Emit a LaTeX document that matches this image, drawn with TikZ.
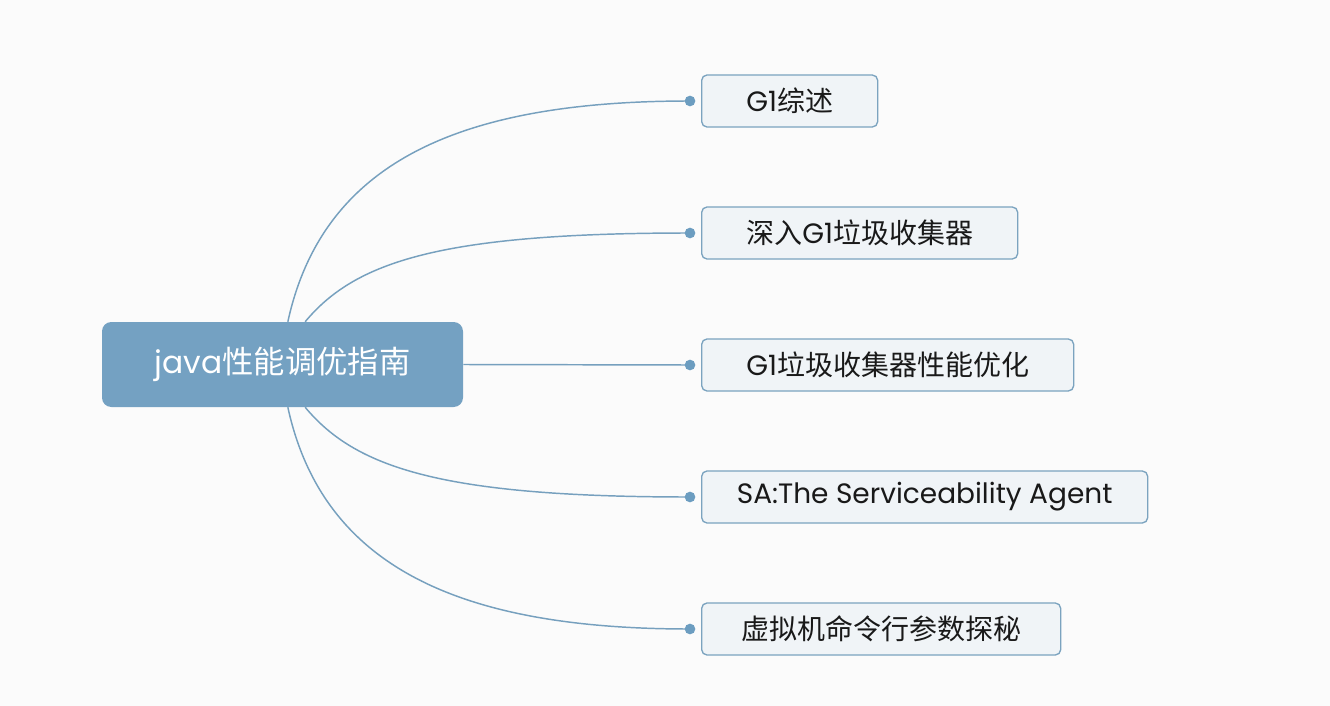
\documentclass[tikz,border=0pt]{standalone}
\usepackage{fontspec}
\setmainfont{Poppins}
\newfontfamily\cjk{Noto Sans CJK SC}
\definecolor{pagebg}{HTML}{FBFBFB}
\definecolor{mapline}{HTML}{76A0BE}
\definecolor{knobfill}{HTML}{6C9DC0}
\definecolor{rootfill}{HTML}{74A1C2}
\definecolor{topicfill}{HTML}{F0F4F7}
\definecolor{topicedge}{HTML}{7BA3BF}
\begin{document}
\begin{tikzpicture}[x=0.75pt,y=-0.75pt,
  root/.style={fill=rootfill, rounded corners=7pt, minimum width=270.75pt,
    minimum height=63.75pt, text=white, font=\fontsize{23.5}{23.5}\selectfont},
  topic/.style={draw=topicedge, fill=topicfill, rounded corners=4pt,
    line width=1pt, minimum height=39pt, anchor=west, text=black!90,
    font=\fontsize{21}{21}\selectfont},
  branch/.style={draw=mapline, line width=1.1pt},
  knob/.style={circle, fill=knobfill, inner sep=0pt, minimum size=8pt}]
  \fill[pagebg] (0,0) rectangle (1330,706);
  \useasboundingbox (0,0) rectangle (1330,706);
  % central topic
  \node[root] (java) at (282.5,364.5) {java{\cjk 性能调优指南}};
  % subtopics
  \node[topic, minimum width=132pt] (g1) at (701,101) {G1{\cjk 综述}};
  \node[topic, minimum width=237pt] (deep) at (701,233) {{\cjk 深入}G1{\cjk 垃圾收集器}};
  \node[topic, minimum width=279pt] (tune) at (701,365) {G1{\cjk 垃圾收集器性能优化}};
  \node[topic, minimum width=334.5pt] (sa) at (701,497) {SA:The Serviceability Agent};
  \node[topic, minimum width=269.25pt] (flags) at (701,629) {{\cjk 虚拟机命令行参数探秘}};
  % knobs
  \foreach \t in {g1,deep,tune,sa,flags}
    \coordinate (k-\t) at ([xshift=-8.25pt]\t.west);
  % branches
  \draw[branch] ([xshift=4pt]java.north) .. controls +(35,-160) and +(-230,0) .. (k-g1);
  \draw[branch] ([xshift=17pt]java.north) .. controls +(50,-60) and +(-250,0) .. (k-deep);
  \draw[branch] (java.east) -- (k-tune);
  \draw[branch] ([xshift=17pt]java.south) .. controls +(50,60) and +(-250,0) .. (k-sa);
  \draw[branch] ([xshift=4pt]java.south) .. controls +(35,160) and +(-230,0) .. (k-flags);
  \foreach \t in {g1,deep,tune,sa,flags}
    \node[knob] at (k-\t) {};
\end{tikzpicture}
\end{document}
